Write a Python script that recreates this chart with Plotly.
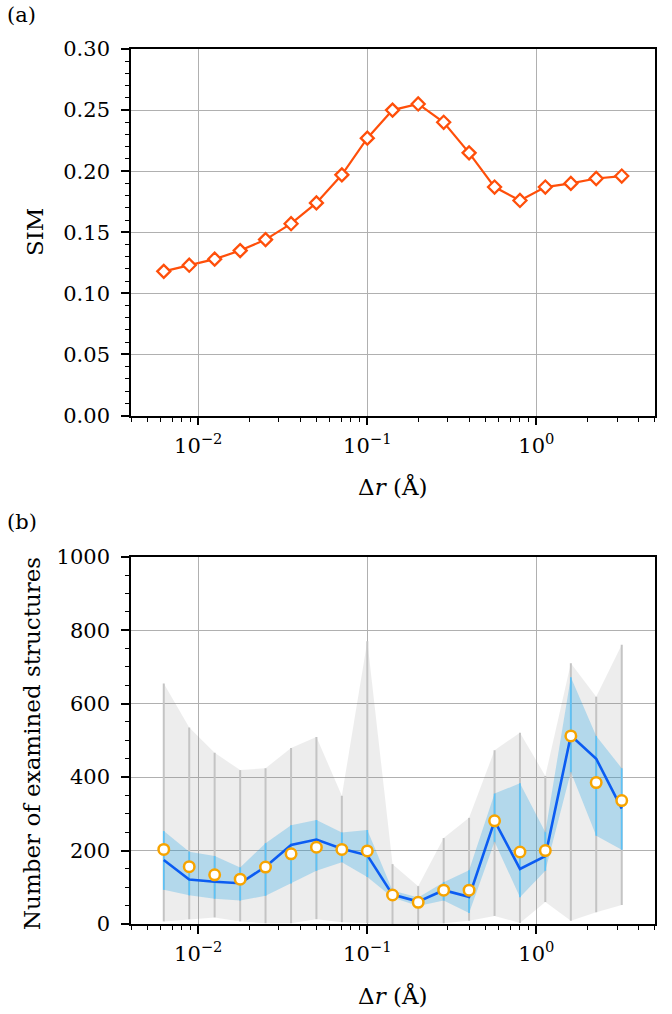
import plotly.graph_objects as go

# ---------------- data ----------------
dr = [0.00625, 0.00884, 0.0125, 0.0177, 0.025, 0.0354, 0.05, 0.0707, 0.1, 0.141,
      0.2, 0.283, 0.4, 0.566, 0.8, 1.13, 1.6, 2.26, 3.2]

sim = [0.118, 0.123, 0.128, 0.135, 0.144, 0.157, 0.174, 0.197, 0.227, 0.250,
       0.255, 0.240, 0.215, 0.187, 0.176, 0.187, 0.190, 0.194, 0.196]

count_mean = [203, 156, 134, 122, 155, 191, 209, 203, 199, 79,
              59, 92, 92, 281, 196, 200, 512, 385, 336]
count_median = [174, 121, 115, 111, 156, 215, 230, 205, 187, 80,
                61, 92, 74, 281, 150, 185, 513, 450, 314]
count_q_low = [93, 78, 69, 64, 77, 110, 145, 168, 128, 72,
               49, 64, 30, 224, 73, 145, 414, 240, 202]
count_q_high = [253, 197, 185, 154, 220, 269, 283, 249, 256, 91,
                72, 114, 146, 355, 383, 250, 672, 512, 424]
count_min = [7, 13, 18, 7, 2, 2, 13, 5, 2, 0,
             0, 2, 9, 22, 3, 60, 9, 32, 52]
count_max = [655, 535, 466, 419, 424, 479, 509, 349, 770, 163,
             103, 234, 289, 473, 521, 403, 710, 619, 760]

x_tickvals = [0.01, 0.1, 1]
x_ticktext = ["10<sup>\u22122</sup>", "10<sup>\u22121</sup>", "10<sup>0</sup>"]
x_limits = [0.004, 5]

# ---------------- style ----------------
FONT = "DejaVu Serif"
TICK_SIZE = 21
TITLE_SIZE = 23
GRID = "#b0b0b0"
x_minor_vals = [m * 10.0 ** e for e in (-3, -2, -1, 0) for m in range(2, 10)
                if x_limits[0] <= m * 10.0 ** e <= x_limits[1]]


def vsegs(xs, lo, hi):
    X, Y = [], []
    for x, l, h in zip(xs, lo, hi):
        X += [x, x, None]
        Y += [l, h, None]
    return X, Y


fig = go.Figure()

# ---- panel (a) ----
fig.add_trace(go.Scatter(
    x=dr, y=sim, mode="lines+markers", xaxis="x", yaxis="y",
    line=dict(color="#ff4f0a", width=2.2),
    marker=dict(symbol="diamond", size=10, color="white",
                line=dict(color="#ff4f0a", width=2.3)),
    showlegend=False))

# ---- panel (b) ----
fig.add_trace(go.Scatter(x=dr, y=count_min, mode="lines", line=dict(width=0),
                         xaxis="x2", yaxis="y2", showlegend=False, hoverinfo="skip"))
fig.add_trace(go.Scatter(x=dr, y=count_max, mode="lines", line=dict(width=0),
                         fill="tonexty", fillcolor="rgba(128,128,128,0.14)",
                         xaxis="x2", yaxis="y2", showlegend=False, hoverinfo="skip"))
gx, gy = vsegs(dr, count_min, count_max)
fig.add_trace(go.Scatter(x=gx, y=gy, mode="lines", line=dict(color="#c4c4c4", width=2),
                         xaxis="x2", yaxis="y2", showlegend=False, hoverinfo="skip"))
fig.add_trace(go.Scatter(x=dr, y=count_q_low, mode="lines", line=dict(width=0),
                         xaxis="x2", yaxis="y2", showlegend=False, hoverinfo="skip"))
fig.add_trace(go.Scatter(x=dr, y=count_q_high, mode="lines", line=dict(width=0),
                         fill="tonexty", fillcolor="rgba(30,160,230,0.28)",
                         xaxis="x2", yaxis="y2", showlegend=False, hoverinfo="skip"))
bx, by = vsegs(dr, count_q_low, count_q_high)
fig.add_trace(go.Scatter(x=bx, y=by, mode="lines", line=dict(color="#5cc2f7", width=1.6),
                         xaxis="x2", yaxis="y2", showlegend=False, hoverinfo="skip"))
fig.add_trace(go.Scatter(x=dr, y=count_median, mode="lines",
                         line=dict(color="#0b5cf2", width=2.6),
                         xaxis="x2", yaxis="y2", showlegend=False))
fig.add_trace(go.Scatter(x=dr, y=count_mean, mode="markers",
                         marker=dict(symbol="circle", size=10.5, color="white",
                                     line=dict(color="#f7a400", width=2.5)),
                         xaxis="x2", yaxis="y2", showlegend=False))

W, H = 672, 1014
xdom = [131 / W, 654.5 / W]
ydom_a = [1 - 415.5 / H, 1 - 49 / H]
ydom_b = [1 - 924 / H, 1 - 556.7 / H]

common_x = dict(
    type="log", range=[-2.39794, 0.69897], automargin=False,
    tickmode="array", tickvals=x_tickvals, ticktext=x_ticktext,
    ticks="outside", ticklen=8, tickwidth=1.6, tickcolor="black",
    showline=True, linecolor="black", linewidth=1.6, mirror=True,
    showgrid=True, gridcolor=GRID, gridwidth=1.2, zeroline=False,
    tickfont=dict(family=FONT, size=TICK_SIZE, color="black"),
    ticklabelstandoff=2,
    minor=dict(tickmode="array", tickvals=x_minor_vals, ticks="outside",
               ticklen=4.5, tickwidth=1.3, tickcolor="black", showgrid=False),
    title=dict(text="\u0394<i>r</i> (\u00c5)", font=dict(family=FONT, size=TITLE_SIZE, color="black")),
    domain=xdom,
)

common_y = dict(
    automargin=False,
    ticks="outside", ticklen=8, tickwidth=1.6, tickcolor="black",
    showline=True, linecolor="black", linewidth=1.6, mirror=True,
    showgrid=True, gridcolor=GRID, gridwidth=1.2, zeroline=False,
    tickfont=dict(family=FONT, size=TICK_SIZE, color="black"),
    ticklabelstandoff=7,
)

title_font = dict(family=FONT, size=TITLE_SIZE, color="black")

fig.update_layout(
    template="none",
    width=W, height=H,
    margin=dict(l=0, r=0, t=0, b=0, autoexpand=False),
    paper_bgcolor="white", plot_bgcolor="white",
    font=dict(family=FONT, color="black", size=TICK_SIZE),
    xaxis=dict(**common_x, anchor="y"),
    yaxis=dict(**common_y, anchor="x", domain=ydom_a, range=[0, 0.30],
               tick0=0, dtick=0.05, tickformat=".2f",
               minor=dict(dtick=0.01, ticks="outside", ticklen=4.5, tickwidth=1.3,
                          tickcolor="black", showgrid=False)),
    xaxis2=dict(**common_x, anchor="y2"),
    yaxis2=dict(**common_y, anchor="x2", domain=ydom_b, range=[0, 1000],
                tick0=0, dtick=200,
                minor=dict(dtick=50, ticks="outside", ticklen=4.5, tickwidth=1.3,
                           tickcolor="black", showgrid=False)),
    annotations=[
        dict(text="SIM", xref="paper", yref="paper", x=35 / W, y=1 - 232 / H,
             xanchor="center", yanchor="middle", textangle=-90, showarrow=False,
             font=title_font),
        dict(text="Number of examined structures", xref="paper", yref="paper",
             x=32 / W, y=1 - 744 / H, xanchor="center", yanchor="middle",
             textangle=-90, showarrow=False, font=title_font),
        dict(text="(a)", xref="paper", yref="paper", x=5 / W, y=1 - 15 / H,
             xanchor="left", yanchor="middle", showarrow=False,
             font=dict(family=FONT, size=21, color="black")),
        dict(text="(b)", xref="paper", yref="paper", x=5 / W, y=1 - 522 / H,
             xanchor="left", yanchor="middle", showarrow=False,
             font=dict(family=FONT, size=21, color="black")),
    ],
)

fig.write_html("out.html")
